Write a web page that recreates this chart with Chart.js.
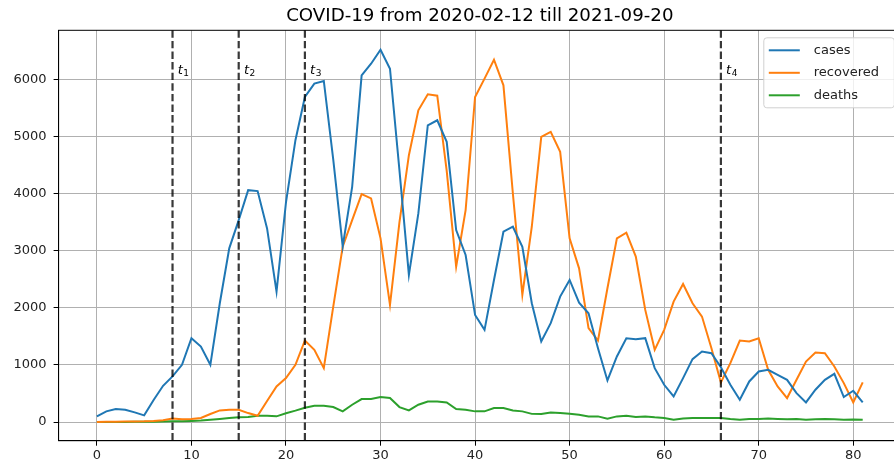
<!DOCTYPE html>
<html>
<head>
<meta charset="utf-8">
<script src="https://cdn.jsdelivr.net/npm/chart.js@4/dist/chart.umd.min.js"></script>
<style>
  html, body { margin: 0; padding: 0; overflow: hidden; background: #fff; }
  #chartCanvas { display: block; }
</style>
</head>
<body>
<canvas id="chartCanvas" width="904" height="466" style="width:904px;height:466px"></canvas>
<script>
const chartTitle = "COVID-19 from 2020-02-12 till 2021-09-20";
const days = Array.from({ length: 82 }, (_, i) => i);

const cases = [99, 187, 227, 216, 169, 117, 385, 635, 800, 1003,
  1470, 1323, 1003, 2081, 3043, 3539, 4063, 4046, 3393, 2285,
  3850, 4938, 5696, 5929, 5976, 4600, 3078, 4122, 6075, 6279,
  6524, 6191, 4413, 2577, 3655, 5200, 5288, 4909, 3364, 2927,
  1877, 1615, 2489, 3335, 3422, 3072, 2081, 1411, 1732, 2198,
  2489, 2093, 1906, 1294, 729, 1149, 1469, 1452, 1469, 944,
  653, 449, 770, 1102, 1236, 1207, 960, 653, 391, 711,
  886, 915, 828, 740, 507, 344, 566, 740, 845, 437,
  548, 344];

const recovered = [0, 3, 5, 8, 10, 12, 18, 30, 60, 50,
  55, 70, 140, 204, 216, 216, 157, 110, 370, 624,
  770, 1003, 1428, 1265, 944, 2023, 3072, 3539, 3994, 3918,
  3218, 2052, 3500, 4676, 5463, 5743, 5719, 4400, 2723, 3714,
  5696, 6017, 6349, 5900, 4000, 2227, 3422, 4996, 5084, 4734,
  3218, 2693, 1644, 1428, 2344, 3218, 3317, 2898, 1965, 1265,
  1615, 2110, 2419, 2081, 1848, 1294, 694, 1032, 1428, 1411,
  1469, 915, 624, 420, 740, 1061, 1218, 1207, 974, 682,
  344, 694];

const deaths = [0, 0, 1, 2, 3, 4, 5, 8, 12, 15,
  20, 25, 40, 55, 70, 85, 90, 110, 110, 100,
  155, 200, 250, 286, 286, 262, 187, 303, 402, 402,
  437, 420, 262, 204, 303, 361, 361, 344, 227, 216,
  187, 187, 245, 245, 204, 187, 143, 140, 169, 157,
  146, 128, 99, 99, 58, 99, 111, 87, 99, 82,
  70, 41, 64, 70, 70, 70, 70, 52, 41, 52,
  52, 60, 55, 50, 55, 40, 50, 55, 50, 40,
  45, 40];

const xTicks = [0, 10, 20, 30, 40, 50, 60, 70, 80];
const yTicks = [0, 1000, 2000, 3000, 4000, 5000, 6000];

// change points t1..t4
const tPoints = [8, 15, 22, 66];
const tLabels = ["1", "2", "3", "4"];

const FONT = "'DejaVu Sans', sans-serif";

const extras = {
  id: "extras",
  afterDatasetsDraw(chart) {
    const { ctx, chartArea: a, scales: { x, y } } = chart;
    ctx.save();

    // dashed vertical markers
    ctx.strokeStyle = "rgba(0,0,0,0.78)";
    ctx.lineWidth = 2.2;
    ctx.setLineDash([7.4, 3.2]);
    tPoints.forEach(t => {
      const px = x.getPixelForValue(t);
      ctx.beginPath();
      ctx.moveTo(px, a.top);
      ctx.lineTo(px, a.bottom);
      ctx.stroke();
    });
    ctx.setLineDash([]);

    // t labels
    ctx.fillStyle = "#000";
    ctx.textBaseline = "alphabetic";
    ctx.textAlign = "left";
    tPoints.forEach((t, i) => {
      const px = x.getPixelForValue(t + 0.55);
      const py = y.getPixelForValue(6100);
      ctx.font = "italic 13px " + FONT;
      ctx.fillText("t", px, py);
      const w = ctx.measureText("t").width;
      ctx.font = "9px " + FONT;
      ctx.fillText(tLabels[i], px + w + 0.5, py + 2.5);
    });

    // spines
    ctx.strokeStyle = "#000";
    ctx.lineWidth = 1;
    ctx.strokeRect(a.left, a.top, a.right - a.left, a.bottom - a.top);

    // title
    ctx.font = "18.2px " + FONT;
    ctx.textAlign = "center";
    ctx.textBaseline = "alphabetic";
    ctx.fillText(chartTitle, (a.left + a.right) / 2, 20.5);

    // legend
    const lx = a.right - 6.7 - 130.5, ly = a.top + 7.5, lw = 130.5, lh = 70;
    ctx.fillStyle = "rgba(255,255,255,0.8)";
    ctx.strokeStyle = "#d0d0d0";
    ctx.lineWidth = 1;
    ctx.beginPath();
    ctx.roundRect(lx, ly, lw, lh, 3);
    ctx.fill();
    ctx.stroke();
    ctx.font = "13px " + FONT;
    ctx.textAlign = "left";
    ctx.textBaseline = "middle";
    chart.data.datasets.forEach((ds, i) => {
      const ry = ly + 12.5 + i * 22.5;
      ctx.strokeStyle = ds.borderColor;
      ctx.lineWidth = 2;
      ctx.beginPath();
      ctx.moveTo(lx + 5, ry);
      ctx.lineTo(lx + 36, ry);
      ctx.stroke();
      ctx.fillStyle = "#222";
      ctx.fillText(ds.label, lx + 50, ry);
    });

    ctx.restore();
  }
};

new Chart(document.getElementById("chartCanvas"), {
  type: "line",
  data: {
    labels: days,
    datasets: [
      { label: "cases", data: cases, borderColor: "#1f77b4" },
      { label: "recovered", data: recovered, borderColor: "#ff7f0e" },
      { label: "deaths", data: deaths, borderColor: "#2ca02c" }
    ]
  },
  options: {
    responsive: false,
    animation: false,
    devicePixelRatio: 1,
    layout: { padding: { left: 0, right: 3, top: 30.3, bottom: 0 } },
    elements: {
      line: { borderWidth: 2, tension: 0, fill: false },
      point: { radius: 0 }
    },
    plugins: { legend: { display: false }, title: { display: false }, tooltip: { enabled: false } },
    scales: {
      x: {
        type: "linear",
        min: -4.05,
        max: 85.05,
        afterBuildTicks: s => { s.ticks = xTicks.map(v => ({ value: v })); },
        afterFit: s => { s.height = 25.3; },
        grid: { color: "#b0b0b0", lineWidth: 1, tickColor: "#000", tickLength: 5 },
        border: { color: "#000", width: 1 },
        ticks: { color: "#222", font: { family: FONT, size: 13 }, padding: 2, maxRotation: 0, callback: v => String(v) }
      },
      y: {
        min: -327,
        max: 6864,
        afterBuildTicks: s => { s.ticks = yTicks.map(v => ({ value: v })); },
        afterFit: s => { s.width = 58.6; },
        grid: { color: "#b0b0b0", lineWidth: 1, tickColor: "#000", tickLength: 5 },
        border: { color: "#000", width: 1 },
        ticks: { color: "#222", font: { family: FONT, size: 13 }, padding: 7, callback: v => String(v) }
      }
    }
  },
  plugins: [extras]
});
</script>
</body>
</html>
